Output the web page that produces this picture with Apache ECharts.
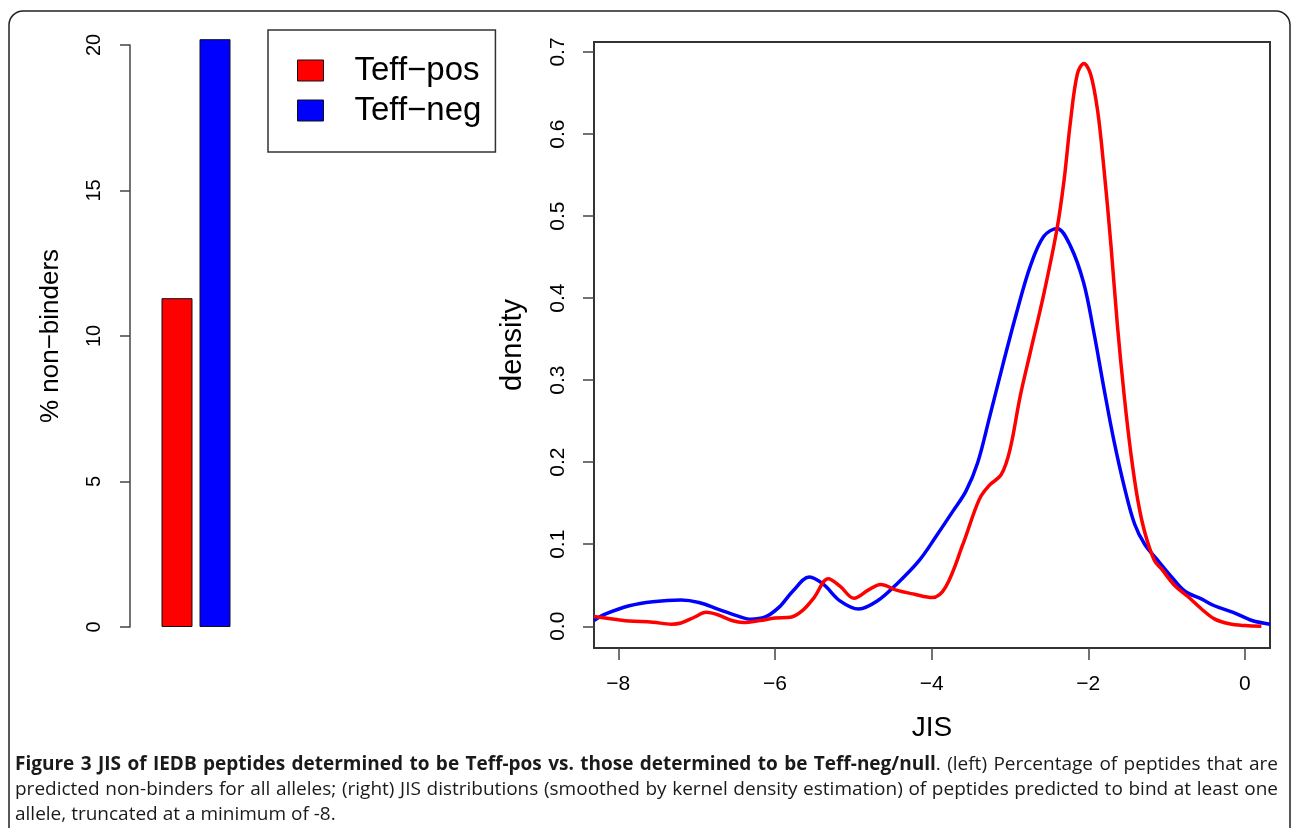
<!DOCTYPE html>
<html>
<head>
<meta charset="utf-8">
<script src="https://cdn.jsdelivr.net/npm/echarts@6/dist/echarts.min.js"></script>
<style>
  html, body { margin: 0; padding: 0; background: #fff; }
  #wrap { position: relative; width: 1292px; height: 828px; overflow: hidden; }
  #chart { position: absolute; left: 0; top: 0; width: 1292px; height: 828px; }
  #caption { position: absolute; left: 15px; top: 751px; width: 1263px;
    font-family: 'Open Sans', sans-serif; font-size: 19px; line-height: 25px; color: #1a1a1a; }
  #caption .ln { white-space: nowrap; text-align: justify; text-align-last: justify; }
  #caption .last { white-space: nowrap; }
</style>
</head>
<body>
<div id="wrap">
  <div id="chart"></div>
  <div id="caption">
    <div class="ln"><b>Figure 3 JIS of IEDB peptides determined to be Teff-pos vs. those determined to be Teff-neg/null</b>. (left) Percentage of peptides that are</div>
    <div class="ln">predicted non-binders for all alleles; (right) JIS distributions (smoothed by kernel density estimation) of peptides predicted to bind at least one</div>
    <div class="last">allele, truncated at a minimum of -8.</div>
  </div>
</div>
<script>
// left panel: % non-binders
const groups = ['Teff\u2212pos', 'Teff\u2212neg'];
const groupColors = ['#ff0000', '#0000ff'];
const nonBinderPct = [11.3, 20.2];

// right panel: JIS density curves [x, density]
const posDensity = [
  [-8.31, 0.012], [-8.0, 0.008], [-7.86, 0.0065], [-7.56, 0.005], [-7.32, 0.0025],
  [-7.2, 0.004], [-7.03, 0.011], [-6.88, 0.017], [-6.73, 0.014], [-6.55, 0.007],
  [-6.4, 0.0045], [-6.19, 0.007], [-6.0, 0.010], [-5.8, 0.011], [-5.65, 0.019],
  [-5.5, 0.035], [-5.32, 0.058], [-5.17, 0.049], [-4.99, 0.034], [-4.81, 0.044],
  [-4.65, 0.051], [-4.45, 0.044], [-4.22, 0.039], [-3.99, 0.035], [-3.82, 0.048],
  [-3.6, 0.100], [-3.39, 0.155], [-3.26, 0.172], [-3.11, 0.185], [-3.0, 0.215],
  [-2.87, 0.280], [-2.74, 0.334], [-2.57, 0.404], [-2.4, 0.484], [-2.31, 0.543],
  [-2.23, 0.613], [-2.14, 0.673], [-2.056, 0.686], [-1.97, 0.673], [-1.88, 0.628],
  [-1.8, 0.558], [-1.71, 0.464], [-1.63, 0.369], [-1.54, 0.280], [-1.455, 0.210],
  [-1.37, 0.155], [-1.28, 0.115], [-1.155, 0.080], [-1.07, 0.0705], [-0.9, 0.050],
  [-0.725, 0.036], [-0.554, 0.021], [-0.39, 0.009], [-0.2, 0.003], [0.0, 0.0008],
  [0.21, 0.0]
];
const negDensity = [
  [-8.31, 0.007], [-8.16, 0.015], [-7.86, 0.025], [-7.56, 0.030], [-7.2, 0.032],
  [-6.97, 0.029], [-6.73, 0.021], [-6.49, 0.013], [-6.31, 0.0086], [-6.13, 0.011],
  [-5.95, 0.023], [-5.77, 0.043], [-5.56, 0.060], [-5.38, 0.051], [-5.17, 0.031],
  [-4.93, 0.021], [-4.69, 0.031], [-4.45, 0.051], [-4.16, 0.080], [-3.94, 0.110],
  [-3.73, 0.140], [-3.56, 0.165], [-3.41, 0.200], [-3.26, 0.255], [-3.09, 0.319],
  [-2.91, 0.384], [-2.74, 0.439], [-2.57, 0.475], [-2.4, 0.485], [-2.23, 0.464],
  [-2.06, 0.419], [-1.93, 0.359], [-1.8, 0.290], [-1.67, 0.225], [-1.54, 0.170],
  [-1.41, 0.125], [-1.28, 0.100], [-1.11, 0.080], [-0.94, 0.0605], [-0.77, 0.043],
  [-0.55, 0.033], [-0.39, 0.025], [-0.15, 0.017], [0.09, 0.007], [0.32, 0.0025]
];
const jisTicks = [-8, -6, -4, -2, 0];
const densityTicks = [0, 0.1, 0.2, 0.3, 0.4, 0.5, 0.6, 0.7];

const chart = echarts.init(document.getElementById('chart'));
const font = 'Liberation Sans, Arial, sans-serif';
const axisGrey = '#444';
const minus = v => (v < 0 ? '\u2212' + Math.abs(v) : String(v));

const option = {
  animation: false,
  backgroundColor: '#fff',
  textStyle: { fontFamily: font },
  graphic: [{
    type: 'rect',
    shape: { x: 9, y: 11, width: 1281, height: 1000, r: 14 },
    style: { fill: 'none', stroke: '#222', lineWidth: 1.5 },
    silent: true
  }],
  grid: [
    { left: 158, top: 45, width: 76, height: 582 },
    { left: 594, top: 42, width: 676, height: 606, show: true, borderColor: '#333', borderWidth: 2 }
  ],
  legend: {
    orient: 'vertical',
    left: 268,
    top: 30,
    icon: 'rect',
    itemWidth: 26,
    itemHeight: 21,
    itemGap: 7,
    padding: [24, 14, 25, 29],
    borderColor: '#333',
    borderWidth: 1.5,
    itemStyle: { borderColor: '#111', borderWidth: 1 },
    textStyle: { fontSize: 33, color: '#000', fontFamily: font, padding: [0, 0, 0, 26] },
    data: groups
  },
  xAxis: [
    { gridIndex: 0, type: 'category', data: groups, show: false },
    {
      gridIndex: 1, type: 'value', min: -8.31, max: 0.32,
      name: 'JIS', nameLocation: 'middle', nameGap: 66,
      nameTextStyle: { fontSize: 28, color: '#000' },
      axisLine: { show: false, onZero: false },
      splitLine: { show: false },
      axisTick: { customValues: jisTicks, length: 12, lineStyle: { color: axisGrey, width: 1.5 } },
      axisLabel: { customValues: jisTicks, formatter: minus, fontSize: 21, color: '#000', margin: 26 }
    }
  ],
  yAxis: [
    {
      gridIndex: 0, type: 'value', min: 0, max: 20, interval: 5, offset: 28,
      name: '% non\u2212binders', nameLocation: 'middle', nameGap: 66,
      nameTextStyle: { fontSize: 26, color: '#000' },
      axisLine: { show: true, lineStyle: { color: axisGrey, width: 1.5 } },
      axisTick: { show: true, length: 10, lineStyle: { color: axisGrey, width: 1.5 } },
      splitLine: { show: false },
      axisLabel: { rotate: 90, fontSize: 20, color: '#000', margin: 26 }
    },
    {
      gridIndex: 1, type: 'value', min: -0.0265, max: 0.7122,
      name: 'density', nameLocation: 'middle', nameGap: 67,
      nameTextStyle: { fontSize: 29, color: '#000' },
      axisLine: { show: false, onZero: false },
      splitLine: { show: false },
      axisTick: { customValues: densityTicks, length: 11, lineStyle: { color: axisGrey, width: 1.5 } },
      axisLabel: { customValues: densityTicks, rotate: 90, fontSize: 21, color: '#000', margin: 25,
        formatter: v => v.toFixed(1) }
    }
  ],
  series: [
    {
      type: 'bar', xAxisIndex: 0, yAxisIndex: 0,
      barWidth: 31, clip: false, legendHoverLink: false,
      data: nonBinderPct.map((v, i) => ({
        value: v,
        itemStyle: { color: groupColors[i], borderColor: '#111', borderWidth: 1 }
      }))
    },
    {
      name: groups[1], type: 'line', xAxisIndex: 1, yAxisIndex: 1,
      data: negDensity, showSymbol: false, smooth: 0.35,
      color: groupColors[1], lineStyle: { width: 3.5, color: groupColors[1] }
    },
    {
      name: groups[0], type: 'line', xAxisIndex: 1, yAxisIndex: 1,
      data: posDensity, showSymbol: false, smooth: 0.35,
      color: groupColors[0], lineStyle: { width: 3.5, color: groupColors[0] }
    }
  ]
};

chart.setOption(option);
</script>
</body>
</html>
